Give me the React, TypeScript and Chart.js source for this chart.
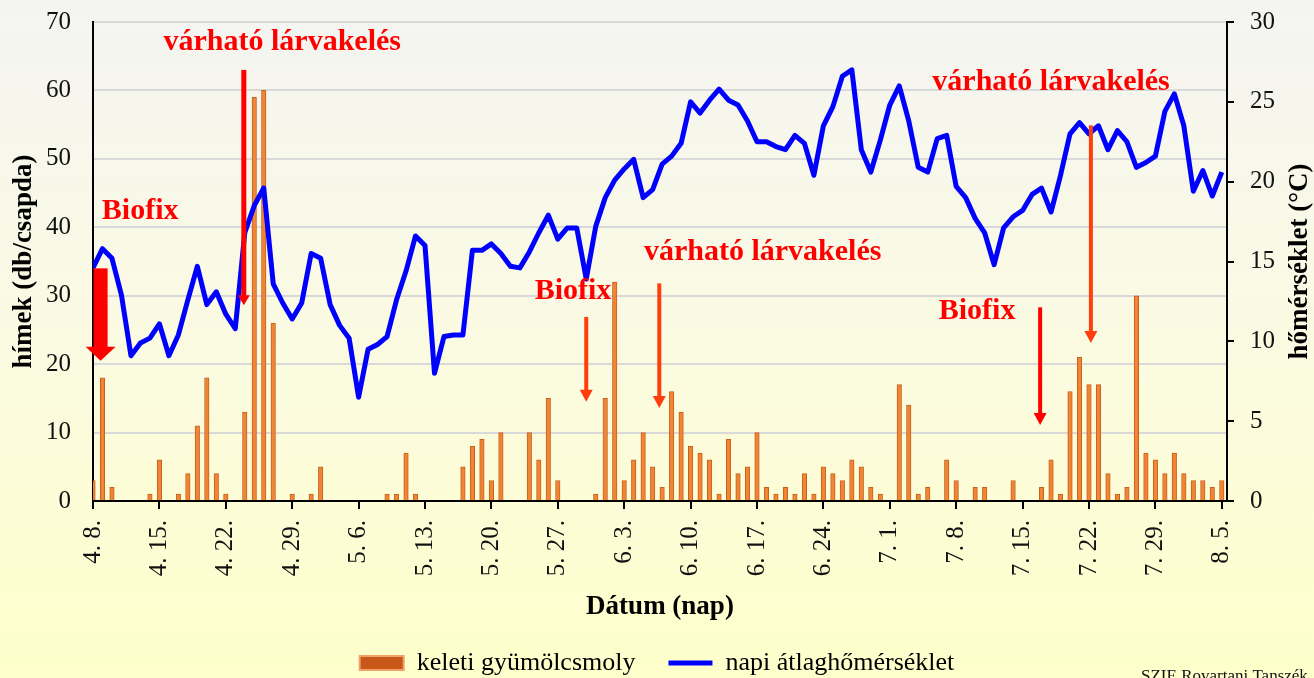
import { useEffect, useRef } from 'react';
import { Chart, registerables } from 'chart.js';

Chart.register(...registerables);

const FONT = '"Liberation Serif", "Times New Roman", serif';

// tick positions (days since 4.8.) and their labels
const tickDays = [0, 7, 14, 21, 28, 35, 42, 49, 56, 63, 70, 77, 84, 91, 98, 105, 112, 119];
const tickLabels = ['4. 8.', '4. 15.', '4. 22.', '4. 29.', '5. 6.', '5. 13.', '5. 20.', '5. 27.', '6. 3.', '6. 10.', '6. 17.', '6. 24.', '7. 1.', '7. 8.', '7. 15.', '7. 22.', '7. 29.', '8. 5.'];

// daily catch: keleti gyümölcsmoly (hímek db/csapda), day 0 = 4.8.
const mothCounts = [
  3, 18, 2, 0, 0, 0, 1, 6, 0, 1,
  4, 11, 18, 4, 1, 0, 13, 59, 60, 26,
  0, 1, 0, 1, 5, 0, 0, 0, 0, 0,
  0, 1, 1, 7, 1, 0, 0, 0, 0, 5,
  8, 9, 3, 10, 0, 0, 10, 6, 15, 3,
  0, 0, 0, 1, 15, 32, 3, 6, 10, 5,
  2, 16, 13, 8, 7, 6, 1, 9, 4, 5,
  10, 2, 1, 2, 1, 4, 1, 5, 4, 3,
  6, 5, 2, 1, 0, 17, 14, 1, 2, 0,
  6, 3, 0, 2, 2, 0, 0, 3, 0, 0,
  2, 6, 1, 16, 21, 17, 17, 4, 1, 2,
  30, 7, 6, 4, 7, 4, 3, 3, 2, 3,
];

// napi átlaghőmérséklet (°C)
const dailyTemp = [
  14.6, 15.8, 15.2, 12.9, 9.1, 9.9, 10.2, 11.1, 9.1, 10.4,
  12.6, 14.7, 12.3, 13.1, 11.7, 10.8, 16.8, 18.5, 19.6, 13.6,
  12.4, 11.4, 12.4, 15.5, 15.2, 12.3, 11.0, 10.2, 6.5, 9.5,
  9.8, 10.3, 12.6, 14.4, 16.6, 16.0, 8.0, 10.3, 10.4, 10.4,
  15.7, 15.7, 16.1, 15.5, 14.7, 14.6, 15.6, 16.8, 17.9, 16.4,
  17.1, 17.1, 13.9, 17.2, 19.0, 20.1, 20.8, 21.4, 19.0, 19.5,
  21.1, 21.6, 22.4, 25.0, 24.3, 25.1, 25.8, 25.1, 24.8, 23.8,
  22.5, 22.5, 22.2, 22.0, 22.9, 22.4, 20.4, 23.5, 24.7, 26.6,
  27.0, 22.0, 20.6, 22.6, 24.8, 26.0, 23.8, 20.9, 20.6, 22.7,
  22.9, 19.7, 19.0, 17.7, 16.8, 14.8, 17.1, 17.8, 18.2, 19.2,
  19.6, 18.1, 20.4, 23.0, 23.7, 23.0, 23.5, 22.0, 23.2, 22.5,
  20.9, 21.2, 21.6, 24.4, 25.5, 23.5, 19.4, 20.7, 19.1, 20.6,
];

// annotation labels (day, left-axis value)
const noteTexts = ['várható lárvakelés', 'Biofix', 'Biofix', 'várható lárvakelés', 'várható lárvakelés', 'Biofix'];
const noteDays = [19.95, 4.97, 50.6, 70.6, 101.0, 93.2];
const noteValues = [67.0, 42.3, 30.6, 36.4, 61.2, 27.7];

// arrows: day, from value, to value
const arrowDays = [0.8, 15.9, 52.0, 59.7, 105.2, 99.85];
const arrowFrom = [34.0, 63.0, 26.9, 31.8, 54.9, 28.3];
const arrowTo = [20.5, 28.6, 14.5, 13.6, 23.1, 11.1];
const arrowShaft = [14, 5, 4, 4, 4, 4];
const arrowHeadW = [30, 12, 13, 13, 13, 13];
const arrowHeadL = [14, 10, 12, 12, 12, 12];
const arrowColors = ['#ff0000', '#ff0000', '#ff3d0d', '#ff3d0d', '#ff3d0d', '#ff0000'];

const bgPlugin = {
  id: 'bgGradient',
  beforeDraw(chart: any) {
    const { ctx, width, height } = chart;
    const g = ctx.createLinearGradient(0, 0, 0, 678);
    g.addColorStop(0, '#f4f4f2');
    g.addColorStop(0.45, '#fafae4');
    g.addColorStop(1, '#ffffcb');
    ctx.save();
    ctx.fillStyle = g;
    ctx.fillRect(0, 0, width, height);
    ctx.restore();
  },
};

const notesPlugin = {
  id: 'notes',
  afterDatasetsDraw(chart: any) {
    const { ctx } = chart;
    const xs = chart.scales.x;
    const ys = chart.scales.y;
    ctx.save();
    for (let i = 0; i < arrowDays.length; i++) {
      const x = xs.getPixelForValue(arrowDays[i]);
      const y0 = ys.getPixelForValue(arrowFrom[i]);
      const y1 = ys.getPixelForValue(arrowTo[i]);
      const hl = arrowHeadL[i];
      ctx.fillStyle = arrowColors[i];
      ctx.fillRect(x - arrowShaft[i] / 2, y0, arrowShaft[i], y1 - hl - y0 + 1);
      ctx.beginPath();
      ctx.moveTo(x - arrowHeadW[i] / 2, y1 - hl);
      ctx.lineTo(x + arrowHeadW[i] / 2, y1 - hl);
      ctx.lineTo(x, y1);
      ctx.closePath();
      ctx.fill();
    }
    ctx.font = `bold 30px ${FONT}`;
    ctx.fillStyle = '#ff0000';
    ctx.textAlign = 'center';
    ctx.textBaseline = 'middle';
    for (let i = 0; i < noteTexts.length; i++) {
      ctx.fillText(noteTexts[i], xs.getPixelForValue(noteDays[i]), ys.getPixelForValue(noteValues[i]));
    }
    ctx.restore();
  },
  afterDraw(chart: any) {
    const { ctx, chartArea } = chart;
    ctx.save();
    ctx.translate(1300, (chartArea.top + chartArea.bottom) / 2);
    ctx.rotate(-Math.PI / 2);
    ctx.font = `bold 27px ${FONT}`;
    ctx.fillStyle = '#000';
    ctx.textAlign = 'center';
    ctx.textBaseline = 'middle';
    ctx.fillText('hőmérséklet (°C)', 0, 0);
    ctx.restore();
    ctx.save();
    ctx.font = `17px ${FONT}`;
    ctx.fillStyle = '#111';
    ctx.textAlign = 'left';
    ctx.textBaseline = 'alphabetic';
    ctx.fillText('SZIE Rovartani Tanszék', 1141, 681);
    ctx.restore();
  },
};

export default function App() {
  const ref = useRef<HTMLCanvasElement>(null);
  useEffect(() => {
    const chart = new Chart(ref.current as HTMLCanvasElement, {
      type: 'bar',
      data: {
        datasets: [
          {
            type: 'bar',
            label: 'keleti gyümölcsmoly',
            data: mothCounts.map((v, i) => ({ x: i, y: v })),
            backgroundColor: '#f08535',
            borderColor: '#c8601e',
            borderWidth: 1,
            barThickness: 4.5,
            yAxisID: 'y',
            order: 2,
            clip: 0,
          } as any,
          {
            type: 'line',
            label: 'napi átlaghőmérséklet',
            data: dailyTemp.map((v, i) => ({ x: i, y: v })),
            borderColor: '#0000ff',
            backgroundColor: '#0000ff',
            borderWidth: 5,
            pointRadius: 0,
            tension: 0,
            borderJoinStyle: 'round',
            yAxisID: 'y1',
            order: 1,
          } as any,
        ],
      },
      options: {
        animation: false,
        responsive: false,
        layout: { padding: { top: 22, left: 0, right: 0, bottom: 4 } },
        plugins: {
          tooltip: { enabled: false },
          legend: {
            position: 'bottom',
            labels: {
              usePointStyle: true,
              pointStyleWidth: 44,
              boxHeight: 14,
              padding: 33,
              font: { family: FONT, size: 26 },
              color: '#000',
              generateLabels: () => [
                { text: 'keleti gyümölcsmoly', fillStyle: '#c8581a', strokeStyle: '#f2a06a', lineWidth: 2, pointStyle: 'rect', hidden: false, datasetIndex: 0, fontColor: '#000' },
                { text: 'napi átlaghőmérséklet', fillStyle: '#0000ff', strokeStyle: '#0000ff', lineWidth: 5, pointStyle: 'line', hidden: false, datasetIndex: 1, fontColor: '#000' },
              ] as any,
            },
          },
        },
        scales: {
          x: {
            type: 'linear',
            position: 'bottom',
            min: 0,
            max: 119.55,
            offset: false,
            afterBuildTicks: (s: any) => {
              s.ticks = tickDays.map((v) => ({ value: v }));
            },
            afterFit: (s: any) => {
              s.height = 116;
            },
            ticks: {
              autoSkip: false,
              minRotation: 90,
              maxRotation: 90,
              padding: 11,
              color: '#111',
              font: { family: FONT, size: 25 },
              callback: (_v: any, i: number) => tickLabels[i],
            },
            grid: { offset: false, drawOnChartArea: false, drawTicks: true, tickLength: 8, color: '#000', lineWidth: 2 },
            border: { color: '#000', width: 2 },
            title: {
              display: true,
              text: 'Dátum (nap)',
              color: '#000',
              font: { family: FONT, size: 27, weight: 'bold' },
              padding: { top: 0, bottom: -6 },
            },
          } as any,
          y: {
            type: 'linear',
            position: 'left',
            min: 0,
            max: 70,
            afterFit: (s: any) => {
              s.width = 93;
              s.paddingTop = 0;
              s.paddingBottom = 0;
            },
            ticks: { stepSize: 10, padding: 22, color: '#111', font: { family: FONT, size: 25 } },
            grid: {
              drawTicks: false,
              lineWidth: 2,
              color: (c: any) => (c.tick && c.tick.value === 0 ? 'rgba(0,0,0,0)' : '#d9d9d9'),
            },
            border: { color: '#000', width: 2 },
            title: {
              display: true,
              text: 'hímek (db/csapda)',
              color: '#000',
              font: { family: FONT, size: 27, weight: 'bold' },
              padding: { top: 8, bottom: 0 },
            },
          } as any,
          y1: {
            type: 'linear',
            position: 'right',
            min: 0,
            max: 30,
            afterFit: (s: any) => {
              s.width = 87;
              s.paddingTop = 0;
              s.paddingBottom = 0;
            },
            ticks: { stepSize: 5, padding: 16, color: '#111', font: { family: FONT, size: 25 } },
            grid: { drawOnChartArea: false, drawTicks: true, tickLength: 7, color: '#000', lineWidth: 2 },
            border: { color: '#000', width: 2 },
          } as any,
        },
      },
      plugins: [bgPlugin, notesPlugin],
    } as any);
    return () => chart.destroy();
  }, []);
  return (
    <div style={{ position: 'absolute', left: 0, top: 0, width: 1314, height: 678, overflow: 'hidden' }}>
      <canvas ref={ref} width={1314} height={690} style={{ display: 'block', width: 1314, height: 690 }} />
    </div>
  );
}
